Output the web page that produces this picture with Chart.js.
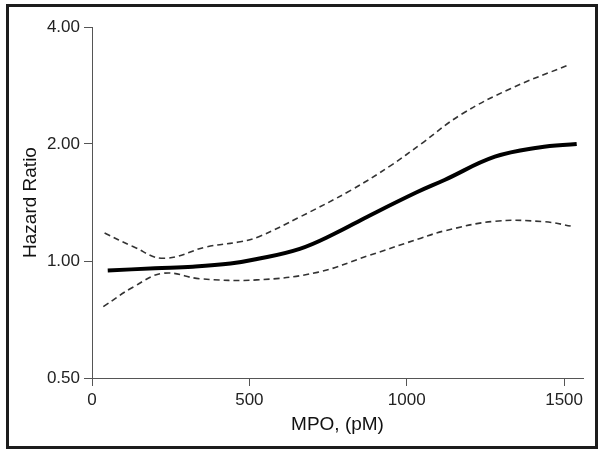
<!DOCTYPE html>
<html>
<head>
<meta charset="utf-8">
<script src="https://cdn.jsdelivr.net/npm/chart.js@4/dist/chart.umd.min.js"></script>
<style>
  html, body { margin: 0; padding: 0; background: #fff; }
  #wrap { position: relative; width: 603px; height: 454px; }
  #frame {
    position: absolute; left: 6px; top: 4px; width: 592px; height: 445px;
    box-sizing: border-box; border: 3px solid #1c1c1c; pointer-events: none;
  }
</style>
</head>
<body>
<div id="wrap">
  <canvas id="chart" width="603" height="454"></canvas>
  <div id="frame"></div>
</div>
<script>
// Hazard ratio spline fit and its confidence band
const mpoFit = [50, 200, 320, 440, 520, 660, 770, 875, 1030, 1120, 1280, 1420, 1540];
const hrFit = [0.945, 0.958, 0.967, 0.985, 1.01, 1.075, 1.175, 1.30, 1.50, 1.616, 1.855, 1.96, 2.0];

const mpoUpper = [40, 130, 227, 365, 471, 530, 662, 822, 949, 1045, 1172, 1331, 1512];
const hrUpper = [1.18, 1.09, 1.016, 1.088, 1.121, 1.155, 1.30, 1.52, 1.76, 2.0, 2.38, 2.78, 3.19];

const mpoLower = [36, 132, 227, 344, 524, 716, 875, 1045, 1119, 1278, 1437, 1533];
const hrLower = [0.763, 0.858, 0.93, 0.9, 0.894, 0.935, 1.03, 1.145, 1.195, 1.265, 1.262, 1.225];

const xTicks = [0, 500, 1000, 1500];
const yTicks = [0.5, 1, 2, 4];

const FONT = '"Liberation Sans", Arial, Helvetica, sans-serif';

function points(xs, ys) {
    return xs.map((x, i) => ({ x: x, y: ys[i] }));
}

const ctx = document.getElementById('chart').getContext('2d');

new Chart(ctx, {
    type: 'line',
    data: {
        datasets: [
            {
                data: points(mpoFit, hrFit),
                borderColor: '#000',
                borderWidth: 4,
                pointRadius: 0,
                tension: 0.4
            },
            {
                data: points(mpoUpper, hrUpper),
                borderColor: '#333',
                borderWidth: 1.6,
                borderDash: [6, 4],
                pointRadius: 0,
                tension: 0.4
            },
            {
                data: points(mpoLower, hrLower),
                borderColor: '#333',
                borderWidth: 1.6,
                borderDash: [6, 4],
                pointRadius: 0,
                tension: 0.4
            }
        ]
    },
    options: {
        responsive: false,
        animation: false,
        layout: { padding: { top: 27, right: 20, left: 0, bottom: 0 } },
        plugins: { legend: { display: false }, tooltip: { enabled: false } },
        scales: {
            x: {
                type: 'linear',
                min: 0,
                max: 1560,
                border: { display: true, color: '#555', width: 1 },
                grid: { display: true, drawOnChartArea: false, drawTicks: true, tickLength: 8, color: '#555' },
                ticks: {
                    includeBounds: false,
                    padding: 4,
                    maxRotation: 0,
                    color: '#222',
                    font: { family: FONT, size: 17 },
                    callback: (v) => String(v)
                },
                afterBuildTicks: (scale) => { scale.ticks = xTicks.map(v => ({ value: v })); },
                afterFit: (scale) => { scale.height = 76; },
                title: {
                    display: true,
                    text: 'MPO, (pM)',
                    color: '#111',
                    font: { family: FONT, size: 19 },
                    padding: { top: 0, bottom: 18 }
                }
            },
            y: {
                type: 'logarithmic',
                min: 0.5,
                max: 4,
                border: { display: true, color: '#555', width: 1 },
                grid: { display: true, drawOnChartArea: false, drawTicks: true, tickLength: 8, color: '#555' },
                ticks: {
                    padding: 4,
                    color: '#222',
                    font: { family: FONT, size: 17 },
                    callback: (v) => Number(v).toFixed(2)
                },
                afterBuildTicks: (scale) => { scale.ticks = yTicks.map(v => ({ value: v })); },
                afterFit: (scale) => { scale.width = 92; },
                title: {
                    display: true,
                    text: 'Hazard Ratio',
                    color: '#111',
                    font: { family: FONT, size: 19 },
                    padding: { top: 19, bottom: 0 }
                }
            }
        }
    }
});
</script>
</body>
</html>
